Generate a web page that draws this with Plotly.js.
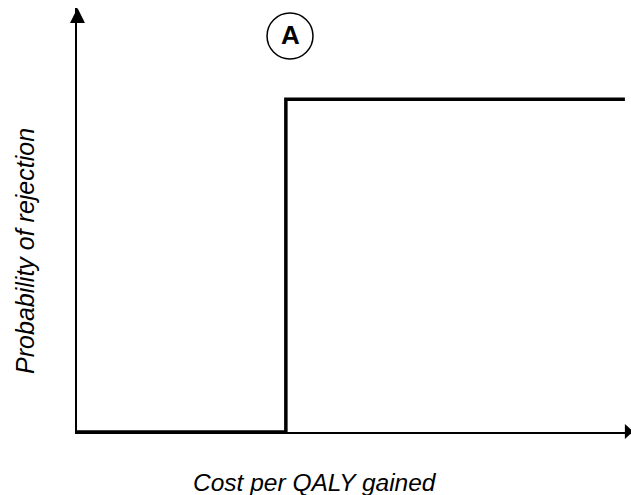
<!DOCTYPE html>
<html>
<head>
<meta charset="utf-8">
<script src="https://cdn.plot.ly/plotly-3.0.1.min.js"></script>
<style>html,body{margin:0;padding:0;background:#fff;}#chart{width:631px;height:495px;}</style>
</head>
<body>
<div id="chart"></div>
<script>
// Step curve: probability of rejection vs cost per QALY gained (abstract units)
const costPerQaly = [0, 37.7, 98.9];
const probRejection = [0, 78.5, 78.5];
const xTitle = "Cost per QALY gained";
const yTitle = "Probability of rejection";
const panelLabel = "A";

const font = "Liberation Sans, Arial, sans-serif";

const trace = {
  x: costPerQaly,
  y: probRejection,
  type: "scatter",
  mode: "lines",
  line: {shape: "hv", color: "#000", width: 3.5},
  cliponaxis: false,
  hoverinfo: "skip"
};

const layout = {
  width: 631, height: 495,
  margin: {l: 77, r: 0, t: 8, b: 63},
  paper_bgcolor: "#fff", plot_bgcolor: "#fff",
  showlegend: false,
  xaxis: {range: [0, 100], showgrid: false, zeroline: false, showticklabels: false, ticks: "",
          showline: true, linecolor: "#000", linewidth: 1.5, fixedrange: true},
  yaxis: {range: [0, 100], showgrid: false, zeroline: false, showticklabels: false, ticks: "",
          showline: true, linecolor: "#000", linewidth: 2, fixedrange: true},
  shapes: [
    // y-axis arrowhead
    {type: "path", xref: "paper", yref: "paper",
     path: "M -0.0126 0.9646 L 0.0144 0.9646 L 0.0009 1.0 Z",
     fillcolor: "#000", line: {width: 0}},
    // x-axis arrowhead
    {type: "path", xref: "paper", yref: "paper",
     path: "M 0.989 0.0189 L 0.989 -0.0165 L 1.004 0.0012 Z",
     fillcolor: "#000", line: {width: 0}},
    // circle around panel label
    {type: "circle", xref: "paper", yref: "paper",
     x0: 0.343, x1: 0.426, y0: 0.880, y1: 0.988,
     line: {color: "#000", width: 1.5}, fillcolor: "rgba(0,0,0,0)"}
  ],
  annotations: [
    {text: "<b>" + panelLabel + "</b>", xref: "paper", yref: "paper", x: 0.386, y: 0.936,
     xanchor: "center", yanchor: "middle", showarrow: false,
     font: {family: font, size: 26, color: "#000"}},
    {text: "<i>" + xTitle + "</i>", xref: "paper", yref: "paper", x: 0.4296, y: -0.118,
     xanchor: "center", yanchor: "middle", showarrow: false,
     font: {family: font, size: 24.5, color: "#000"}},
    {text: "<i>" + yTitle + "</i>", xref: "paper", yref: "paper", x: -0.094, y: 0.427,
     xanchor: "center", yanchor: "middle", showarrow: false, textangle: -90,
     font: {family: font, size: 25, color: "#000"}}
  ]
};

Plotly.newPlot("chart", [trace], layout, {displayModeBar: false, staticPlot: true});
</script>
</body>
</html>
